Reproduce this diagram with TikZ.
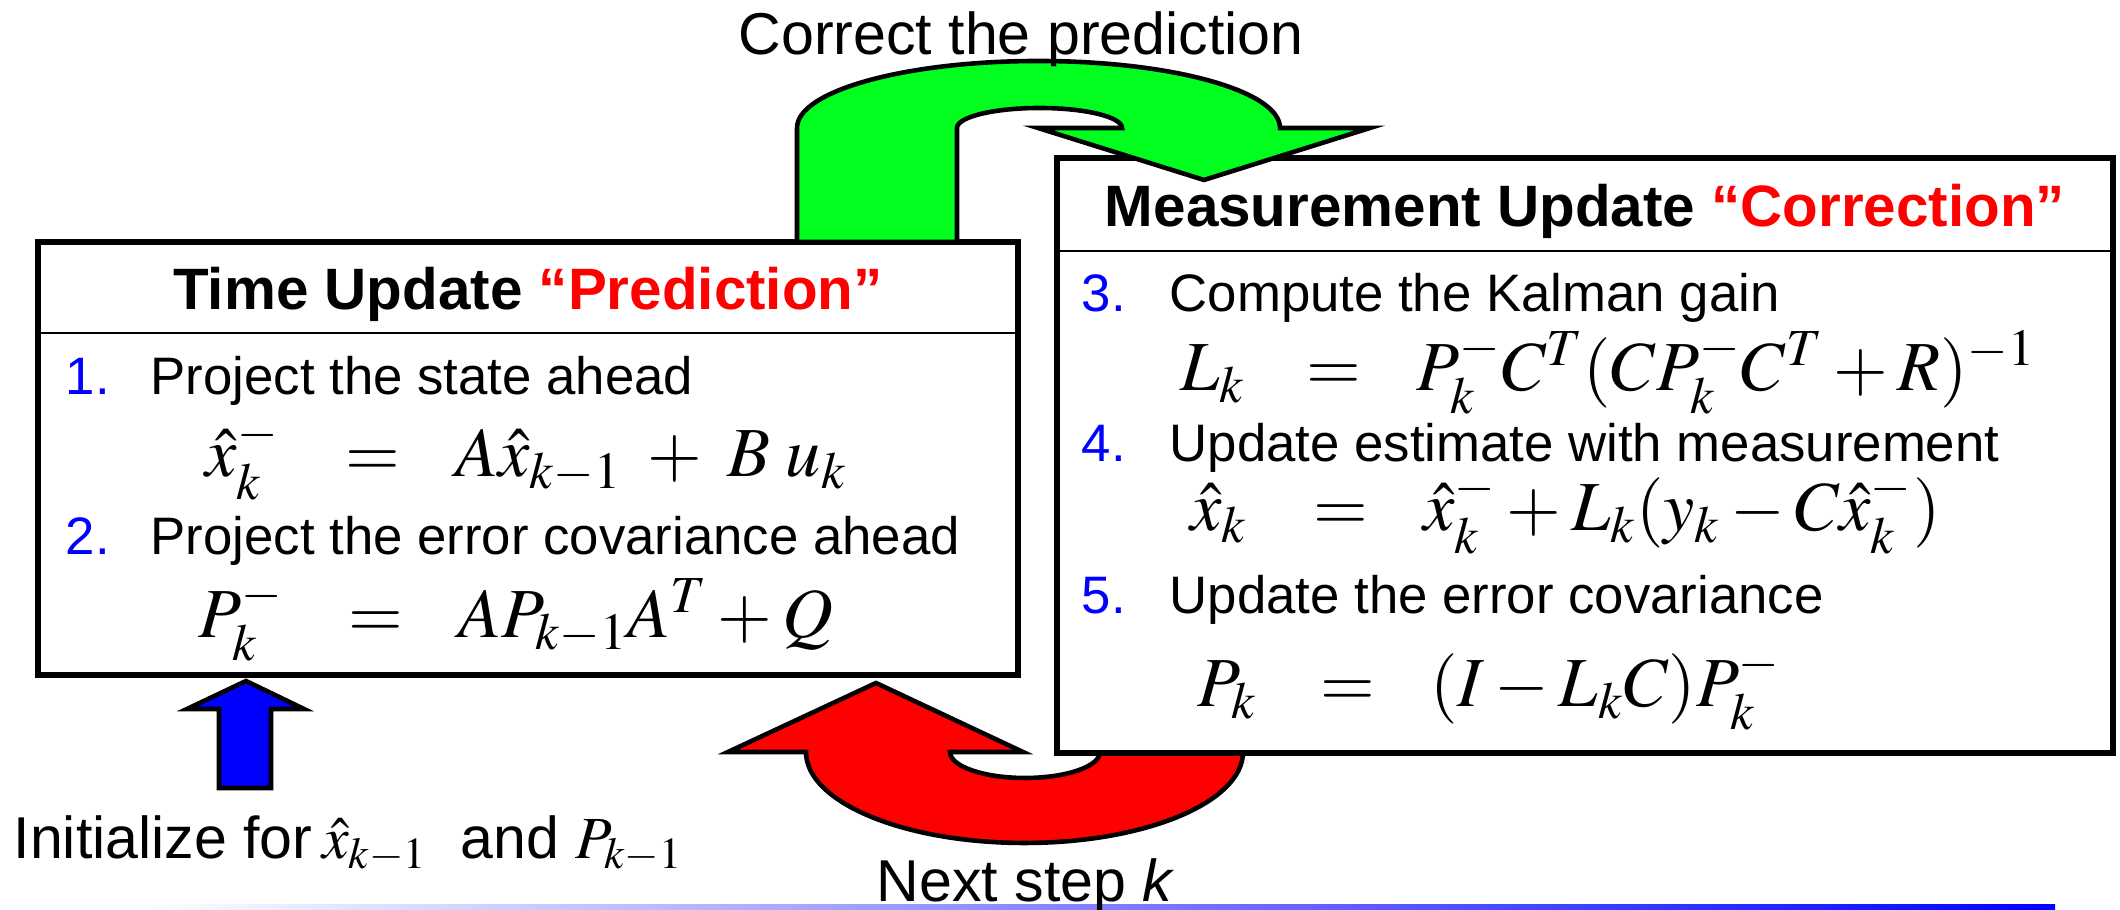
\documentclass[tikz,border=0pt]{standalone}
\usepackage{mathptmx}
\usepackage[no-math]{fontspec}
\setmainfont{Liberation Sans}
\usetikzlibrary{positioning}
\usepackage{xcolor}
\definecolor{kfgreen}{RGB}{0,255,30}
\definecolor{kfred}{RGB}{255,0,0}
\definecolor{kfblue}{RGB}{0,0,255}
% one row of an equation array: lhs, =, rhs
\newcommand{\kfrow}[3]{\makebox[#1][l]{$#2$}$=$\hspace{0.55cm}$#3$}

\begin{document}
\begin{tikzpicture}[x=0.01cm, y=0.01cm,
    kfbox/.style={rectangle, draw, line width=1.7pt, fill=white},
    sepline/.style={line width=0.6pt},
    hdr/.style={anchor=base, inner sep=0pt, font=\fontsize{16.6}{20}\selectfont\bfseries},
    num/.style={anchor=base west, inner sep=0pt, text=kfblue, font=\fontsize{15}{18}\selectfont},
    itm/.style={anchor=base west, inner sep=0pt, font=\fontsize{15}{18}\selectfont},
    eqn/.style={anchor=base west, inner sep=0pt, font=\fontsize{20}{22}\selectfont},
    lbl/.style={inner sep=0pt, font=\fontsize{16.8}{20}\selectfont},
    fat/.style={draw, line width=1.3pt, line join=miter}]
    \useasboundingbox (0,0) rectangle (2120,910);

    % rule at the bottom
    \shade[left color=white, middle color=kfblue!25, right color=kfblue] (140,0) rectangle (2055,5);

    % Next step arrow
    \draw[fat, fill=kfred] (1243,172) -- (1243,158)
        arc[start angle=0, end angle=-180, x radius=218.5, y radius=91]
        -- (728,158) -- (876,227) -- (1023,158) -- (950,158)
        arc[start angle=180, end angle=360, x radius=75, y radius=26]
        -- (1100,172) -- cycle;

    % the two boxes
    \node[kfbox, minimum width=9.8cm, minimum height=4.33cm] (tu) at (528,451.5) {};
    \node[kfbox, minimum width=10.56cm, minimum height=5.95cm] (mu) at (1585,454.5) {};
    \coordinate (tusep) at (0,577);
    \coordinate (musep) at (0,659);
    \draw[sepline] (tu.west |- tusep) -- (tu.east |- tusep);
    \draw[sepline] (mu.west |- musep) -- (mu.east |- musep);

    % Correct the prediction arrow
    \draw[fat, fill=kfgreen] (797,668) -- (797,782)
        arc[start angle=180, end angle=0, x radius=241.5, y radius=67]
        -- (1370,782) -- (1204,730) -- (1038,782) -- (1122,782)
        arc[start angle=0, end angle=180, x radius=82.5, y radius=20]
        -- (957,668) -- cycle;

    % Time update
    \node[hdr] (tutitle) at (528,600) {Time Update \textcolor{kfred}{“Prediction”}};
    \node[num] (n1) at (65,515) {1.};
    \node[itm] (s1) at (150,515) {Project the state ahead};
    \node[eqn] (eq1) at (205,433) {\kfrow{1.4cm}{\hat{x}_k^-}{A\hat{x}_{k-1} \;+\; B\;u_k}};
    \node[num] (n2) at (65,355) {2.};
    \node[itm] (s2) at (150,355) {Project the error covariance ahead};
    \node[eqn] (eq2) at (198,272) {\kfrow{1.5cm}{P_k^-}{AP_{k-1}A^T + Q}};

    % Measurement update
    \node[hdr] (mutitle) at (1585,683) {Measurement Update \textcolor{kfred}{“Correction”}};
    \node[num] (n3) at (1081,598) {3.};
    \node[itm] (s3) at (1169,598) {Compute the Kalman gain};
    \node[eqn] (eq3) at (1180,519) {\kfrow{1.26cm}{L_k}{P_k^-C^T(CP_k^-C^T+R)^{-1}}};
    \node[num] (n4) at (1081,448) {4.};
    \node[itm] (s4) at (1169,448) {Update estimate with measurement};
    \node[eqn] (eq4) at (1190,379) {\kfrow{1.23cm}{\hat{x}_k}{\hat{x}_k^- + L_k(y_k - C\hat{x}_k^-)}};
    \node[num] (n5) at (1081,296) {5.};
    \node[itm] (s5) at (1169,296) {Update the error covariance};
    \node[eqn] (eq5) at (1197,203) {\kfrow{1.23cm}{P_k}{(I - L_kC)P_k^-}};

    % initial values
    \draw[fat, fill=kfblue] (219,122) -- (219,201) -- (187,201) -- (246,229)
        -- (304,201) -- (271,201) -- (271,122) -- cycle;

    % labels
    \node[lbl, anchor=base] (correct) at (1021,855) {Correct the prediction};
    \node[lbl, anchor=base west] (nextstep) at (876,8) {Next step \textit{k}};
    \node[lbl, anchor=base west] (init) at (13,51)
        {Initialize for\,{\fontsize{17}{18}\selectfont$\hat{x}_{k-1}$}\ \ and {\fontsize{17}{18}\selectfont$P_{k-1}$}};
\end{tikzpicture}
\end{document}
